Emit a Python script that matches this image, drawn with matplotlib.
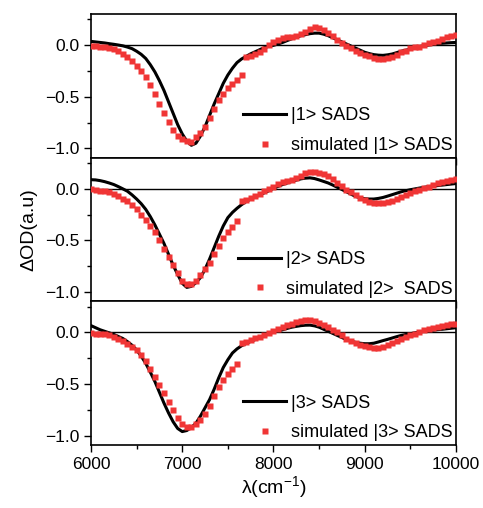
import numpy as np
import matplotlib
matplotlib.use("Agg")
import matplotlib.pyplot as plt
from matplotlib.ticker import MultipleLocator

plt.rcParams['font.family'] = ['Liberation Sans', 'DejaVu Sans']
plt.rcParams['mathtext.default'] = 'regular'

# wavenumber grid (cm-1), read every 50 cm-1
wn = np.arange(6000, 10001, 50)

sads1 = [0.035, 0.03, 0.025, 0.02, 0.013, 0.007, 0.0, -0.008, -0.02, -0.035,
         -0.06, -0.09, -0.13, -0.19, -0.26, -0.345, -0.44, -0.55, -0.66, -0.77,
         -0.86, -0.93, -0.97, -0.95, -0.88, -0.79, -0.68, -0.57, -0.47, -0.37,
         -0.29, -0.225, -0.17, -0.135, -0.11, -0.085, -0.065, -0.045, -0.025, -0.012,
         -0.003, 0.01, 0.025, 0.043, 0.06, 0.075, 0.09, 0.1, 0.11, 0.115,
         0.115, 0.105, 0.09, 0.07, 0.05, 0.03, 0.01, -0.01, -0.03, -0.05,
         -0.07, -0.083, -0.093, -0.098, -0.1, -0.095, -0.087, -0.074, -0.06, -0.05,
         -0.04, -0.027, -0.015, -0.007, 0.0, 0.007, 0.013, 0.017, 0.02, 0.023,
         0.025]
sim1 = [-0.01, -0.01, -0.015, -0.02, -0.025, -0.04, -0.06, -0.085, -0.12, -0.15,
        -0.2, -0.25, -0.31, -0.39, -0.47, -0.57, -0.66, -0.74, -0.82, -0.88,
        -0.91, -0.93, -0.935, -0.89, -0.85, -0.79, -0.71, -0.62, -0.53, -0.47,
        -0.42, -0.375, -0.335, -0.29, -0.12, -0.11, -0.09, -0.07, -0.04, 0.0,
        0.025, 0.05, 0.065, 0.075, 0.08, 0.09, 0.105, 0.13, 0.155, 0.17,
        0.165, 0.145, 0.12, 0.085, 0.05, 0.02, -0.005, -0.03, -0.055, -0.075,
        -0.1, -0.11, -0.125, -0.135, -0.135, -0.13, -0.12, -0.095, -0.07, -0.055,
        -0.03, -0.02, -0.015, 0.003, 0.02, 0.03, 0.04, 0.058, 0.075, 0.085,
        0.095]

sads2 = [0.087, 0.085, 0.078, 0.068, 0.055, 0.04, 0.02, -0.002, -0.025, -0.06,
         -0.1, -0.145, -0.2, -0.27, -0.35, -0.44, -0.53, -0.635, -0.74, -0.83,
         -0.915, -0.955, -0.945, -0.91, -0.86, -0.78, -0.68, -0.57, -0.46, -0.36,
         -0.28, -0.23, -0.19, -0.155, -0.125, -0.1, -0.08, -0.06, -0.04, -0.02,
         0.005, 0.022, 0.04, 0.055, 0.07, 0.083, 0.095, 0.102, 0.105, 0.098,
         0.085, 0.07, 0.055, 0.035, 0.013, -0.008, -0.03, -0.053, -0.075, -0.088,
         -0.097, -0.1, -0.1, -0.094, -0.085, -0.072, -0.058, -0.044, -0.03, -0.02,
         -0.01, -0.002, 0.006, 0.013, 0.02, 0.025, 0.03, 0.035, 0.04, 0.045,
         0.05]
sim2 = [-0.005, -0.013, -0.02, -0.025, -0.035, -0.05, -0.07, -0.1, -0.12, -0.16,
        -0.2, -0.25, -0.3, -0.36, -0.42, -0.5, -0.58, -0.66, -0.74, -0.82,
        -0.89, -0.925, -0.92, -0.89, -0.835, -0.775, -0.715, -0.635, -0.55, -0.48,
        -0.42, -0.37, -0.31, -0.12, -0.105, -0.09, -0.07, -0.05, -0.025, 0.0,
        0.02, 0.045, 0.06, 0.075, 0.085, 0.1, 0.12, 0.15, 0.16, 0.162,
        0.155, 0.14, 0.12, 0.09, 0.055, 0.025, -0.01, -0.035, -0.06, -0.088,
        -0.11, -0.125, -0.135, -0.14, -0.135, -0.125, -0.115, -0.1, -0.08, -0.06,
        -0.04, -0.025, -0.01, 0.005, 0.02, 0.035, 0.055, 0.068, 0.078, 0.085,
        0.09]

sads3 = [0.065, 0.045, 0.025, 0.01, -0.005, -0.02, -0.04, -0.06, -0.09, -0.125,
         -0.17, -0.23, -0.3, -0.385, -0.475, -0.58, -0.685, -0.78, -0.865, -0.93,
         -0.96, -0.95, -0.92, -0.88, -0.81, -0.73, -0.65, -0.55, -0.44, -0.34,
         -0.265, -0.2, -0.16, -0.13, -0.108, -0.088, -0.07, -0.05, -0.032, -0.013,
         0.003, 0.014, 0.025, 0.038, 0.05, 0.058, 0.065, 0.069, 0.07, 0.063,
         0.05, 0.03, 0.01, -0.01, -0.03, -0.05, -0.07, -0.085, -0.097, -0.105,
         -0.11, -0.11, -0.105, -0.093, -0.08, -0.068, -0.055, -0.042, -0.03, -0.021,
         -0.013, -0.005, 0.003, 0.01, 0.016, 0.021, 0.026, 0.03, 0.035, 0.04,
         0.045]
sim3 = [-0.005, -0.013, -0.015, -0.02, -0.03, -0.045, -0.065, -0.085, -0.11, -0.14,
        -0.175, -0.22, -0.28, -0.35, -0.43, -0.51, -0.59, -0.67, -0.75, -0.83,
        -0.89, -0.918, -0.918, -0.89, -0.845, -0.79, -0.71, -0.615, -0.53, -0.46,
        -0.4, -0.355, -0.305, -0.1, -0.09, -0.075, -0.058, -0.045, -0.025, -0.005,
        0.015, 0.037, 0.055, 0.072, 0.084, 0.097, 0.107, 0.115, 0.117, 0.11,
        0.095, 0.075, 0.05, 0.025, 0.0, -0.03, -0.06, -0.085, -0.105, -0.12,
        -0.135, -0.145, -0.15, -0.148, -0.14, -0.125, -0.105, -0.085, -0.065, -0.045,
        -0.03, -0.015, 0.005, 0.02, 0.035, 0.045, 0.055, 0.065, 0.072, 0.078,
        0.085]

line_labels = ["|1> SADS", "|2> SADS", "|3> SADS"]
sim_labels = ["simulated |1> SADS", "simulated |2>  SADS", "simulated |3> SADS"]

fig = plt.figure(figsize=(4.83, 5.08), dpi=100)
gs = fig.add_gridspec(3, 1, left=0.1884, right=0.944, top=0.9724, bottom=0.124, hspace=0)
axes = [fig.add_subplot(gs[i]) for i in range(3)]

for i, (ax, s, m) in enumerate(zip(axes, [sads1, sads2, sads3], [sim1, sim2, sim3])):
    ax.axhline(0, color='black', lw=1.0, zorder=1)
    ax.plot(wn, s, color='black', lw=2.2, label=line_labels[i], zorder=2)
    ax.plot(wn, m, ls='none', marker='s', ms=3.8, color='#f03535', mec='none',
            label=sim_labels[i], zorder=3)
    ax.set_xlim(6000, 10000)
    ax.set_ylim(-1.09, 0.30)
    ax.yaxis.set_major_locator(MultipleLocator(0.5))
    ax.yaxis.set_minor_locator(MultipleLocator(0.25))
    ax.xaxis.set_major_locator(MultipleLocator(1000))
    ax.xaxis.set_minor_locator(MultipleLocator(500))
    ax.tick_params(which='both', direction='out', top=False, right=False, labelsize=12.5)
    ax.tick_params(which='major', length=5, width=1)
    ax.tick_params(which='minor', length=3, width=1)
    for sp in ax.spines.values():
        sp.set_linewidth(1.2)
    if i < 2:
        ax.tick_params(labelbottom=False)
    ax.legend(loc='lower right', frameon=False, fontsize=13, handlelength=2.4,
              handletextpad=0.25, labelspacing=0.7, borderaxespad=0.0, borderpad=0.2,
              numpoints=1, markerscale=1.0)

axes[1].set_ylabel("ΔOD(a.u)", fontsize=14, labelpad=5)
axes[2].set_xlabel("λ(cm$^{-1}$)", fontsize=14, labelpad=2)

fig.savefig("out.png", dpi=100)
